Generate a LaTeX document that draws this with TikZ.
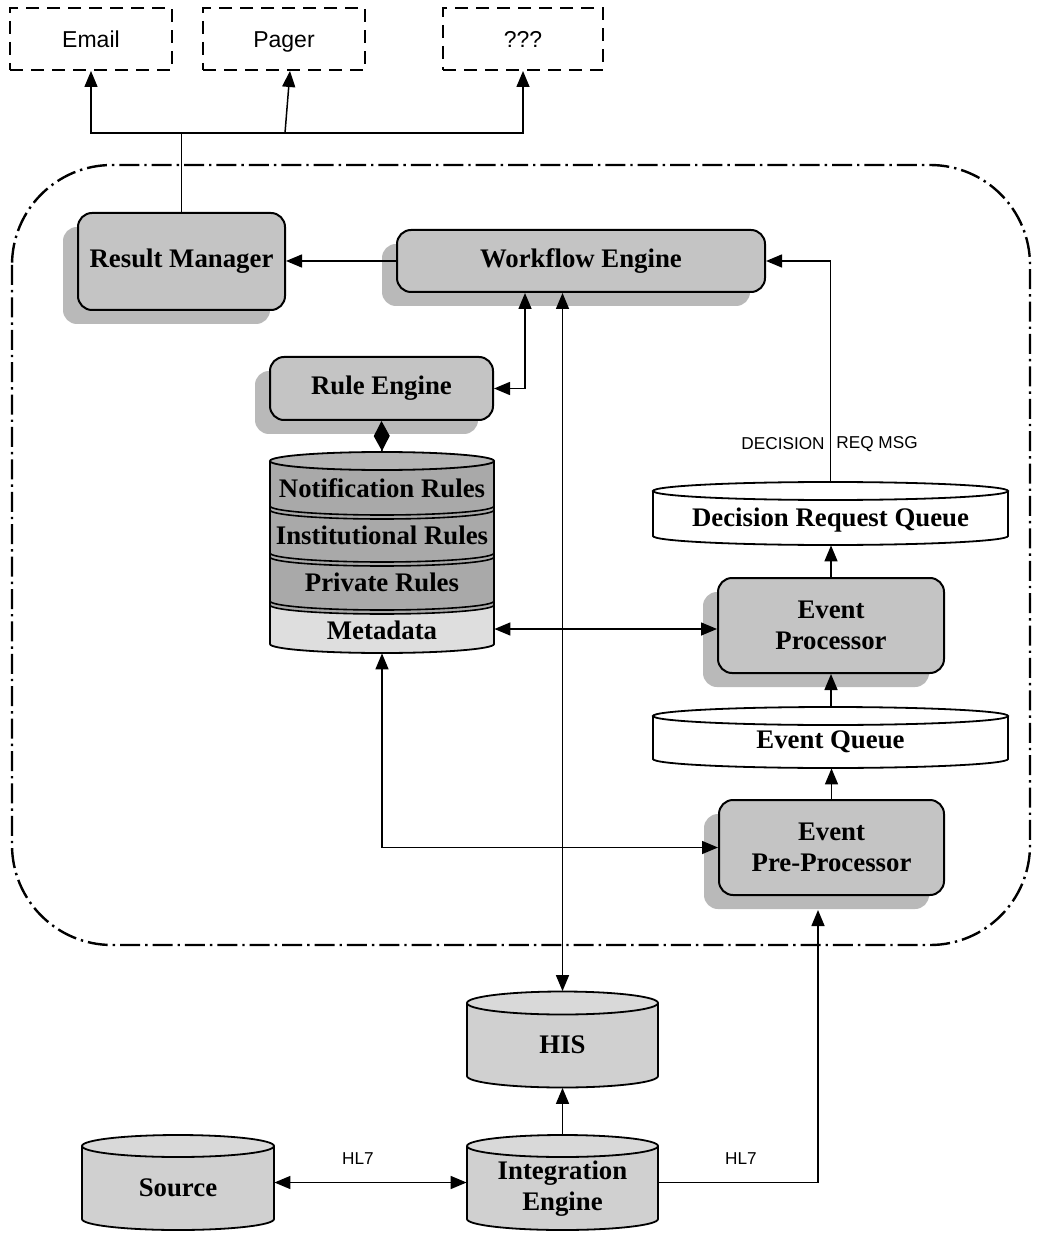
\documentclass[tikz,border=0pt]{standalone}
\usepackage{fontspec}
\setmainfont{Liberation Serif}
\setsansfont{Liberation Sans}
\usetikzlibrary{arrows.meta,shadows,fit}

\definecolor{boxgrey}{HTML}{C4C4C4}
\definecolor{shadegrey}{HTML}{B9B9B9}
\definecolor{rulegrey}{HTML}{A9A9A9}
\definecolor{ruletop}{HTML}{B4B4B4}
\definecolor{metagrey}{HTML}{DEDEDE}
\definecolor{drumgrey}{HTML}{D0D0D0}
\definecolor{drumtop}{HTML}{D9D9D9}

\newcommand{\boxfont}{\fontsize{13.4}{15.6}\selectfont\bfseries}
\newcommand{\outfont}{\sffamily\fontsize{11.5}{13}\selectfont}
\newcommand{\tagfont}{\sffamily\fontsize{8.6}{10}\selectfont}

% drum: name, left, right, top centre, bottom centre, y radius, body fill, lid fill
\newcommand{\drumshape}[8]{%
  \pgfmathsetmacro{\drumrx}{(#3-#2)/2}%
  \pgfmathsetmacro{\drummid}{(#3+#2)/2}%
  \pgfmathsetmacro{\drumtop}{#4-#6}%
  \pgfmathsetmacro{\drumbot}{#5+#6}%
  \fill[#7] (#2,#4) -- (#2,#5) arc[start angle=180,end angle=0,x radius=\drumrx,y radius=#6] -- (#3,#4) -- cycle;
  \draw[drumline] (#2,#4) -- (#2,#5) arc[start angle=180,end angle=0,x radius=\drumrx,y radius=#6] -- (#3,#4);
  \draw[drumline,fill=#8] (\drummid,#4) ellipse[x radius=\drumrx,y radius=#6];
  \node[fit={(#2,\drumtop)(#3,\drumbot)},inner sep=0pt] (#1) {};
}

\begin{document}
\begin{tikzpicture}[x=0.5pt,y=-0.5pt,
  box/.style={draw=black, line width=1pt, rounded corners=7pt, fill=boxgrey,
    general shadow={fill=shadegrey, shadow xshift=-7.5pt, shadow yshift=-7pt},
    font=\boxfont, align=center, inner sep=0pt},
  outbox/.style={draw=black, line width=1pt, dash pattern=on 6.5pt off 4pt,
    font=\outfont, inner sep=0pt, text height=8.5pt, text depth=0pt},
  drumline/.style={draw=black, line width=0.9pt},
  lbl/.style={font=\boxfont, align=center, inner sep=0pt},
  tag/.style={font=\tagfont, inner sep=0pt},
  wire/.style={line width=0.75pt},
  tip/.style={},
  arr/.style={wire, -{Triangle[length=8pt,width=6.5pt]}},
  arrboth/.style={wire, {Triangle[length=8pt,width=6.5pt]}-{Triangle[length=8pt,width=6.5pt]}},
  sep/.style={line width=0.8pt}
]
\fill[white] (0,0) rectangle (1043,1234);
\useasboundingbox (0,0) rectangle (1043,1234);

% system boundary
\draw[line width=1.2pt, dash pattern=on 10pt off 2.5pt on 1.2pt off 2.5pt,
      rounded corners=50pt] (12,165) rectangle (1030,945);

% output channels
\node[outbox, minimum width=81pt, minimum height=31pt] (email) at (91,39) {Email};
\node[outbox, minimum width=81pt, minimum height=31pt] (pager) at (284,39) {Pager};
\node[outbox, minimum width=80pt, minimum height=31pt] (unk) at (523,39) {???};

% processing boxes
\node[box, minimum width=103.5pt, minimum height=48.5pt] (rm) at (181.5,261.5) {Result Manager};
\node[box, minimum width=184pt, minimum height=31pt] (we) at (581,261) {Workflow Engine};
\node[box, minimum width=111.5pt, minimum height=31.5pt] (re) at (381.5,388.5) {Rule Engine};
\node[box, minimum width=113pt, minimum height=47.5pt] (ep) at (831,625.5) {Event\\Processor};
\node[box, minimum width=112.5pt, minimum height=47.5pt] (epp) at (831.5,847.5) {Event\\Pre-Processor};

% rule store
\fill[rulegrey] (270,461) -- (270,644) arc[start angle=180,end angle=0,x radius=112,y radius=9] -- (494,461) -- cycle;
\fill[metagrey] (270,605) arc[start angle=180,end angle=0,x radius=112,y radius=9] -- (494,644)
   arc[start angle=0,end angle=180,x radius=112,y radius=9] -- cycle;
\foreach \c in {506,553,601}{
  \draw[sep] (270,\c) arc[start angle=180,end angle=0,x radius=112,y radius=9];
  \draw[sep] (270,\c+4) arc[start angle=180,end angle=0,x radius=112,y radius=9];
}
\draw[drumline] (270,461) -- (270,644) arc[start angle=180,end angle=0,x radius=112,y radius=9] -- (494,461);
\draw[drumline,fill=ruletop] (382,461) ellipse[x radius=112,y radius=9];
\node[fit={(270,452)(494,653)},inner sep=0pt] (rules) {};
\node[fit={(270,605)(494,653)},inner sep=0pt] (meta) {};
\node[lbl] (tnot) at (382,488) {Notification Rules};
\node[lbl] (tins) at (382,535) {Institutional Rules};
\node[lbl] (tpri) at (382,582) {Private Rules};
\node[lbl] (tmeta) at (382,630) {Metadata};

% queues
\drumshape{drq}{653}{1008}{491}{536}{9}{white}{white}
\node[lbl] (tdrq) at (830.5,520) {Decision Request Queue};
\drumshape{eq}{653}{1008}{716}{759}{9}{white}{white}
\node[lbl] (teq) at (830.5,742) {Event Queue};

% external systems
\drumshape{his}{467}{658}{1003}{1076}{11.5}{drumgrey}{drumtop}
\node[lbl] (this) at (562.5,1045) {HIS};
\drumshape{ie}{467}{658}{1146}{1219}{11}{drumgrey}{drumtop}
\node[lbl] (tie) at (562.5,1189) {Integration\\Engine};
\drumshape{src}{82}{274}{1146}{1219}{11}{drumgrey}{drumtop}
\node[lbl] (tsrc) at (178,1188) {Source};

% connectors
\coordinate (bus) at (181.5,133);
\coordinate (ptap) at (285,133);
\coordinate (wrcol) at (525,0);
\coordinate (eppfoot) at (818,910);

\draw[wire] (rm.north) -- (bus);
\draw[arr] (bus) -| (email.south);
\draw[arr] (bus) -| (unk.south);
\draw[arr] (ptap) -- ([xshift=3pt]pager.south);

\draw[arr] (we.west) -- (we.west -| rm.east);
\draw[arrboth] (re.east) -| (we.south -| wrcol);
\draw[arrboth] (we.south -| his.north) -- (his.north);
\draw[wire, -{Diamond[length=15pt,width=8pt]}] (rules.north) -- (re.south);

\draw[arr] (drq.north) |- (we.east);
\node[tag, anchor=east] (dtag) at (825,444) {DECISION};
\node[tag, anchor=west] (rtag) at (836,444) {REQ MSG};

\draw[arr] (ep.north) -- (ep.north |- drq.south);
\draw[arr] (eq.north -| ep.south) -- (ep.south);
\draw[arr] (epp.north) -- (epp.north |- eq.south);

\draw[arrboth] (meta.east) -- (meta.east -| ep.west);
\draw[arrboth] (rules.south) |- (epp.west);

\draw[arr] (ie.north) -- (his.south);
\draw[arrboth] (src.east) -- (ie.west);
\node[tag] (hl7a) at (358,1159) {HL7};
\draw[arr] (ie.east) -| (eppfoot);
\node[tag] (hl7b) at (741,1159) {HL7};
\end{tikzpicture}
\end{document}
